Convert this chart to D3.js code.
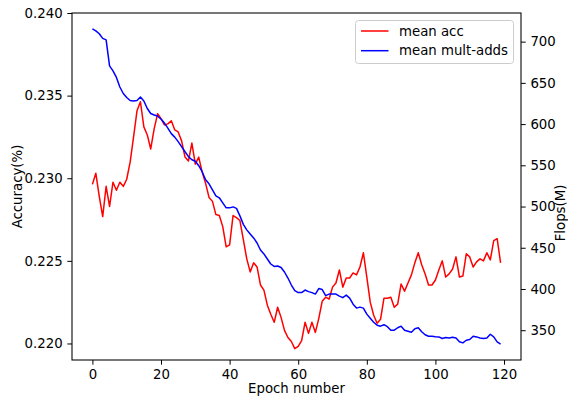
<!DOCTYPE html>
<html><head><meta charset="utf-8">
<script src="https://cdn.jsdelivr.net/npm/d3@7"></script>
<style>body{margin:0;background:#fff}svg{display:block}text{font-family:"DejaVu Sans",sans-serif}</style>
</head><body><svg id="c" width="568" height="398"></svg>
<script>
const meanAcc = [0.22963,0.23030,0.22890,0.22768,0.22951,0.22829,0.22976,0.22927,0.22976,0.22951,
0.22994,0.23097,0.23250,0.23408,0.23463,0.23311,0.23262,0.23177,0.23299,0.23390,
0.23360,0.23323,0.23329,0.23348,0.23293,0.23280,0.23226,0.23128,0.23104,0.23213,
0.23085,0.23128,0.23037,0.22969,0.22884,0.22860,0.22780,0.22774,0.22707,0.22585,
0.22597,0.22774,0.22762,0.22744,0.22628,0.22512,0.22433,0.22488,0.22463,0.22354,
0.22323,0.22232,0.22177,0.22128,0.22219,0.22158,0.22079,0.22036,0.22012,0.21969,
0.21982,0.22018,0.22128,0.22061,0.22128,0.22067,0.22152,0.22256,0.22280,0.22268,
0.22341,0.22366,0.22445,0.22341,0.22396,0.22396,0.22427,0.22415,0.22463,0.22549,
0.22402,0.22250,0.22171,0.22122,0.22146,0.22274,0.22274,0.22280,0.22219,0.22238,
0.22360,0.22317,0.22366,0.22415,0.22488,0.22549,0.22476,0.22421,0.22354,0.22354,
0.22384,0.22445,0.22500,0.22402,0.22421,0.22451,0.22524,0.22402,0.22408,0.22543,
0.22524,0.22463,0.22494,0.22512,0.22500,0.22549,0.22506,0.22622,0.22634,0.22488];
const meanMultAdds = [715.6,713.1,709.5,704.0,702.2,670.6,664.5,656.6,645.0,637.1,
632.2,628.6,628.0,628.6,632.8,628.0,618.9,612.8,611.0,609.7,
606.1,601.2,595.1,588.4,584.2,578.7,572.6,566.5,560.5,556.8,
555.0,549.5,542.2,532.5,527.6,520.3,513.0,510.6,504.5,498.4,
498.4,499.6,497.8,488.7,478.4,471.7,466.8,461.9,455.8,447.3,
442.5,436.4,430.3,427.3,427.9,426.0,420.6,413.3,404.8,398.1,
395.6,395.6,398.7,396.8,395.6,393.8,400.5,399.3,392.0,393.8,
393.8,393.8,391.4,389.5,392.6,388.9,381.6,376.8,378.0,376.8,
369.5,364.6,359.7,356.1,354.9,356.7,354.3,350.0,350.0,353.0,
354.9,350.0,348.8,347.6,351.8,353.0,348.2,344.5,342.7,342.7,
342.1,341.9,339.9,341.1,340.6,341.5,340.6,336.0,334.6,337.8,
338.7,342.7,341.9,340.6,339.9,340.6,345.1,341.9,335.8,333.0];
const xTicks = [0,20,40,60,80,100,120];
const accTicks = [0.220,0.225,0.230,0.235,0.240];
const accRange = [0.219,0.240];
const flopsTicks = [350,400,450,500,550,600,650,700];
const seriesNames = ["mean acc","mean mult-adds"];
const seriesColors = ["#ff0000","#0000ff"];
const xLabel = "Epoch number", yLeftLabel = "Accuracy(%)", yRightLabel = "Flops(M)";

const L = 72, R = 521, T = 13, B = 360;
const FS = 13.3, TL = 4.7, TP = 4.7;
const svg = d3.select("#c");

const n = meanAcc.length;
const xm = (n - 1) * 0.05;
const x = d3.scaleLinear().domain([-xm, n - 1 + xm]).range([L, R]);
const yL = d3.scaleLinear().domain(accRange).range([B, T]);
const ext = d3.extent(meanMultAdds), pad = (ext[1] - ext[0]) * 0.05;
const yR = d3.scaleLinear().domain([ext[0] - pad, ext[1] + pad]).range([B, T]);

function styleAxis(g) {
  g.select(".domain").remove();
  g.selectAll(".tick line").attr("stroke", "#000").attr("stroke-width", 1);
  g.selectAll(".tick text").attr("fill", "#000").style("font-size", FS + "px")
    .style("font-family", '"DejaVu Sans",sans-serif');
}
svg.append("g").attr("transform", `translate(0,${B})`)
  .call(d3.axisBottom(x).tickValues(xTicks).tickFormat(d3.format("d")).tickSize(TL).tickPadding(TP))
  .call(styleAxis);
svg.append("g").attr("transform", `translate(${L},0)`)
  .call(d3.axisLeft(yL).tickValues(accTicks).tickFormat(d3.format(".3f")).tickSize(TL).tickPadding(TP))
  .call(styleAxis);
svg.append("g").attr("transform", `translate(${R},0)`)
  .call(d3.axisRight(yR).tickValues(flopsTicks).tickFormat(d3.format("d")).tickSize(TL).tickPadding(TP))
  .call(styleAxis);

const lineAcc = d3.line().x((d, i) => x(i)).y(d => yL(d));
const lineFl = d3.line().x((d, i) => x(i)).y(d => yR(d));
svg.append("path").attr("d", lineAcc(meanAcc)).attr("fill", "none")
  .attr("stroke", seriesColors[0]).attr("stroke-width", 1.5).attr("stroke-linejoin", "round");
svg.append("path").attr("d", lineFl(meanMultAdds)).attr("fill", "none")
  .attr("stroke", seriesColors[1]).attr("stroke-width", 1.5).attr("stroke-linejoin", "round");

svg.append("rect").attr("x", L).attr("y", T).attr("width", R - L).attr("height", B - T)
  .attr("fill", "none").attr("stroke", "#000").attr("stroke-width", 1.07);

// legend
const lg = svg.append("g");
lg.append("rect").attr("x", 355.5).attr("y", 20.5).attr("width", 158).attr("height", 43)
  .attr("rx", 3).attr("fill", "#fff").attr("fill-opacity", 0.8).attr("stroke", "#cccccc").attr("stroke-width", 1);
seriesNames.forEach((name, i) => {
  const yy = 31 + i * 19.7;
  lg.append("line").attr("x1", 361).attr("x2", 388.5).attr("y1", yy).attr("y2", yy)
    .attr("stroke", seriesColors[i]).attr("stroke-width", 1.5);
  lg.append("text").attr("x", 399).attr("y", yy).attr("dy", "0.36em")
    .style("font-size", FS + "px").attr("fill", "#000").text(name);
});

svg.append("text").attr("x", (L + R) / 2).attr("y", 388).attr("dy", "0.36em")
  .attr("text-anchor", "middle").style("font-size", FS + "px").text(xLabel);
svg.append("text").attr("transform", `translate(17,${(T + B) / 2}) rotate(-90)`).attr("dy", "0.36em")
  .attr("text-anchor", "middle").style("font-size", FS + "px").text(yLeftLabel);
svg.append("text").attr("transform", `translate(560,213) rotate(-90)`).attr("dy", "0.36em")
  .attr("text-anchor", "middle").style("font-size", FS + "px").text(yRightLabel);
</script></body></html>
